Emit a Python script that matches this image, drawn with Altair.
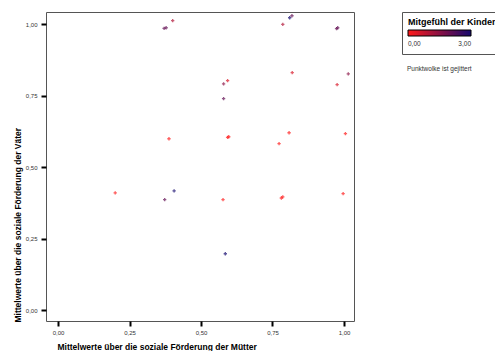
import altair as alt
import pandas as pd

mothers = [0.371, 0.378, 0.401, 0.579, 0.593, 0.579, 0.786, 0.810, 0.818, 0.819,
           0.974, 0.978, 1.015, 0.976, 0.388, 0.593, 0.597, 0.773, 0.808, 1.005,
           0.200, 0.373, 0.406, 0.577, 0.781, 0.786, 0.997, 0.585]
fathers = [0.985, 0.987, 1.012, 0.791, 0.802, 0.739, 0.999, 1.022, 1.029, 0.830,
           0.984, 0.987, 0.826, 0.788, 0.599, 0.604, 0.606, 0.582, 0.620, 0.617,
           0.410, 0.386, 0.417, 0.386, 0.392, 0.396, 0.407, 0.197]
empathy = [2.0, 2.0, 1.0, 1.5, 0.5, 2.0, 1.0, 3.0, 2.0, 0.5,
           2.0, 2.0, 1.5, 0.5, 0.0, 0.0, 0.0, 0.0, 0.0, 0.0,
           0.0, 2.0, 3.0, 0.0, 0.0, 0.0, 0.0, 3.0]
ticks = [0.0, 0.25, 0.5, 0.75, 1.0]

df = pd.DataFrame({"m": mothers, "v": fathers, "k": empathy})

label_expr = "replace(format(datum.value, '.2f'), '.', ',')"

points = alt.Chart(df).mark_point(shape="cross", filled=True, size=11, opacity=1,
                                  fillOpacity=0.7, strokeWidth=0).encode(
    x=alt.X("m:Q", scale=alt.Scale(domain=[-0.042, 1.035], nice=False, zero=False),
            axis=alt.Axis(values=ticks, labelExpr=label_expr, grid=False, domain=False,
                          tickColor="black", tickWidth=2, tickSize=5, labelFontSize=6,
                          labelColor="#333", labelPadding=3, labelFont="Liberation Sans",
                          title="Mittelwerte über die soziale Förderung der Mütter",
                          titleFont="Liberation Sans", titleFontSize=8.5, titleFontWeight="bold",
                          titleAlign="left", titleX=11, titleY=28, titleBaseline="alphabetic")),
    y=alt.Y("v:Q", scale=alt.Scale(domain=[-0.038, 1.042], nice=False, zero=False),
            axis=alt.Axis(values=ticks, labelExpr=label_expr, grid=False, domain=False,
                          tickColor="black", tickWidth=2, tickSize=5, labelFontSize=6,
                          labelColor="#333", labelPadding=4, labelFont="Liberation Sans",
                          title="Mittelwerte über die soziale Förderung der Väter",
                          titleFont="Liberation Sans", titleFontSize=8.5, titleFontWeight="bold",
                          titleAngle=270, titleAlign="left", titleX=-26, titleY=310,
                          titleBaseline="alphabetic")),
    color=alt.Color("k:Q", scale=alt.Scale(domain=[0, 3], range=["#ff1a1a", "#14086e"],
                                           interpolate="rgb"),
                    legend=alt.Legend(title="Mitgefühl der Kinder", orient="none",
                                      legendX=356, legendY=0, direction="horizontal",
                                      gradientLength=63, gradientThickness=6,
                                      gradientStrokeColor="black", gradientStrokeWidth=1,
                                      values=[0, 3], labelExpr=label_expr,
                                      labelFontSize=6.5, labelFont="Liberation Sans",
                                      labelColor="#333", labelAlign="center",
                                      titleFont="Liberation Sans", titleFontSize=9,
                                      titleFontWeight="bold", titleColor="black",
                                      strokeColor="#555", padding=6, titlePadding=3,
                                      labelOffset=5, offset=0)),
)

note = alt.Chart(pd.DataFrame({"t": ["Punktwolke ist gejittert"]})).mark_text(
    align="left", baseline="middle", fontSize=6.5, font="Liberation Sans", color="#333"
).encode(x=alt.value(361), y=alt.value(57), text="t:N")

chart = alt.layer(points, note).properties(
    width=308, height=309,
    autosize=alt.AutoSizeParams(type="none"),
    padding={"left": 38, "top": 4, "right": 141, "bottom": 30},
).configure_view(stroke="#555", strokeWidth=1)

chart.save("out.html", embed_options={"renderer": "svg", "actions": False})
